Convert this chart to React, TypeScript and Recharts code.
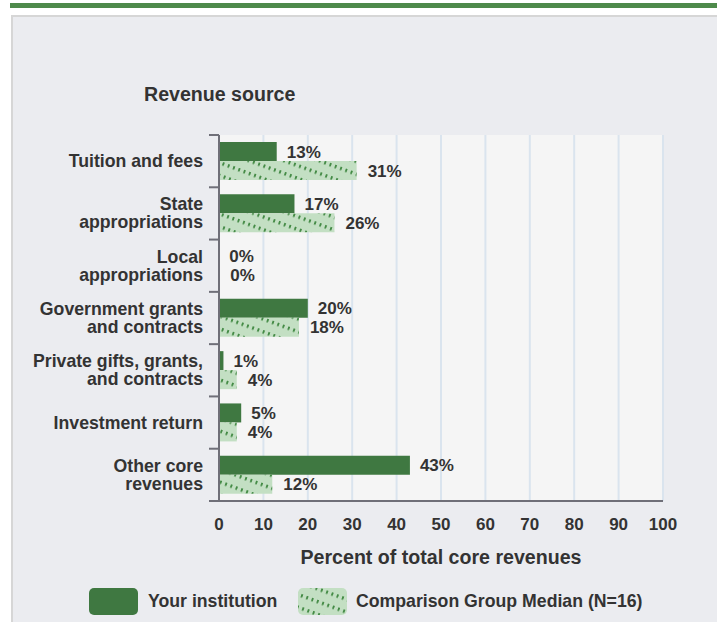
import React from 'react';
import { BarChart, Bar, XAxis, YAxis, CartesianGrid, LabelList } from 'recharts';

const categories = [
  'Tuition and fees',
  'State\nappropriations',
  'Local\nappropriations',
  'Government grants\nand contracts',
  'Private gifts, grants,\nand contracts',
  'Investment return',
  'Other core\nrevenues',
];
const institution = [13, 17, 0, 20, 1, 5, 43];
const comparison = [31, 26, 0, 18, 4, 4, 12];
const xTicks = [0, 10, 20, 30, 40, 50, 60, 70, 80, 90, 100];

const seriesNames = ['Your institution', 'Comparison Group Median (N=16)'];

const data = categories.map((name, i) => ({
  name,
  institution: institution[i],
  comparison: comparison[i],
}));

const FONT = '"Liberation Sans", Arial, Helvetica, sans-serif';
const TEXT = '#333333';
const DARK = '#3f7841';
const AXIS = '#6f6f78';

const PLOT_TOP = 135;
const PLOT_BOTTOM = 501;
const HALF_BAND = (PLOT_BOTTOM - PLOT_TOP) / categories.length / 2;

const CategoryTick = (props: any) => {
  const { x, y, payload, index } = props;
  const lines = String(payload.value).split('\n');
  const lh = 18;
  const start = -((lines.length - 1) * lh) / 2;
  const isLast = index === categories.length - 1;
  return (
    <g>
      <line x1={x - 10} x2={x} y1={y - HALF_BAND} y2={y - HALF_BAND} stroke={AXIS} strokeWidth={2} />
      {isLast && (
        <line x1={x - 10} x2={x} y1={y + HALF_BAND} y2={y + HALF_BAND} stroke={AXIS} strokeWidth={2} />
      )}
      <text
        x={x - 16}
        y={y}
        textAnchor="end"
        fill={TEXT}
        fontFamily={FONT}
        fontWeight="bold"
        fontSize={17.7}
      >
        {lines.map((l, i) => (
          <tspan key={i} x={x - 16} y={y + start + i * lh + 6}>
            {l}
          </tspan>
        ))}
      </text>
    </g>
  );
};

const labelStyle = { fill: TEXT, fontFamily: FONT, fontWeight: 'bold' as const, fontSize: 17 };

export default function App() {
  return (
    <div
      style={{
        position: 'absolute',
        left: 0,
        top: 0,
        width: 717,
        height: 622,
        background: '#ffffff',
        overflow: 'hidden',
        fontFamily: FONT,
      }}
    >
      <svg width={0} height={0} style={{ position: 'absolute' }}>
        <defs>
          <pattern
            id="hatch"
            patternUnits="userSpaceOnUse"
            width={5.6}
            height={12}
            patternTransform="rotate(20)"
          >
            <rect width={5.6} height={12} fill="#c3dfc3" />
            <line x1={2.8} y1={4} x2={2.8} y2={7.5} stroke="#2f7d31" strokeWidth={1.6} />
          </pattern>
        </defs>
      </svg>
      <div style={{ position: 'absolute', left: 10, top: 3, width: 720, height: 5, background: '#4e8a4b' }} />
      <div
        style={{
          position: 'absolute',
          left: 11,
          top: 15,
          width: 720,
          height: 620,
          background: '#ebecf0',
          borderLeft: '2px solid #d6d6d6',
          borderTop: '2px solid #d6d6d6',
        }}
      />
      <div
        style={{
          position: 'absolute',
          left: 144,
          top: 83,
          fontSize: 19.6,
          lineHeight: '22px',
          fontWeight: 'bold',
          color: TEXT,
          whiteSpace: 'nowrap',
        }}
      >
        Revenue source
      </div>
      <div style={{ position: 'absolute', left: 0, top: 0 }}>
        <BarChart
          width={717}
          height={622}
          data={data}
          layout="vertical"
          margin={{ top: PLOT_TOP, right: 54, bottom: 51, left: 19 }}
          barGap={0}
          barSize={19}
        >
          <CartesianGrid horizontal={false} stroke="#dae4ee" strokeWidth={2} fill="#f5f5f5" />
          <XAxis
            xAxisId="top"
            orientation="top"
            type="number"
            domain={[0, 100]}
            height={0}
            tick={false}
            tickLine={false}
            axisLine={{ stroke: '#c9c9c9', strokeWidth: 2 }}
          />
          <XAxis
            type="number"
            domain={[0, 100]}
            ticks={xTicks}
            interval={0}
            height={70}
            tickLine={false}
            tickSize={0}
            tickMargin={17}
            axisLine={{ stroke: AXIS, strokeWidth: 2 }}
            tick={{ fill: TEXT, fontFamily: FONT, fontWeight: 'bold', fontSize: 17 }}
            label={{
              value: 'Percent of total core revenues',
              position: 'insideBottom',
              offset: 7,
              fill: TEXT,
              fontFamily: FONT,
              fontWeight: 'bold',
              fontSize: 19.6,
            }}
          />
          <YAxis
            type="category"
            dataKey="name"
            width={200}
            tickLine={false}
            tickSize={0}
            tickMargin={0}
            interval={0}
            axisLine={{ stroke: AXIS, strokeWidth: 2 }}
            tick={<CategoryTick />}
          />
          <Bar
            dataKey="institution"
            name={seriesNames[0]}
            fill={DARK}
            minPointSize={0.3}
            isAnimationActive={false}
          >
            <LabelList
              dataKey="institution"
              position="right"
              offset={10}
              formatter={(v: any) => `${v}%`}
              style={labelStyle}
            />
          </Bar>
          <Bar
            dataKey="comparison"
            name={seriesNames[1]}
            fill="url(#hatch)"
            minPointSize={0.3}
            isAnimationActive={false}
          >
            <LabelList
              dataKey="comparison"
              position="right"
              offset={11}
              formatter={(v: any) => `${v}%`}
              style={labelStyle}
            />
          </Bar>
        </BarChart>
      </div>
      <svg width={717} height={40} style={{ position: 'absolute', left: 0, top: 582 }}>
        <rect x={89} y={6} width={49} height={27} rx={5} fill={DARK} />
        <text x={148} y={25} fill={TEXT} fontFamily={FONT} fontWeight="bold" fontSize={17.7}>
          {seriesNames[0]}
        </text>
        <rect x={298} y={6} width={49} height={27} rx={5} fill="url(#hatch)" />
        <text x={356} y={25} fill={TEXT} fontFamily={FONT} fontWeight="bold" fontSize={17.7}>
          {seriesNames[1]}
        </text>
      </svg>
    </div>
  );
}
